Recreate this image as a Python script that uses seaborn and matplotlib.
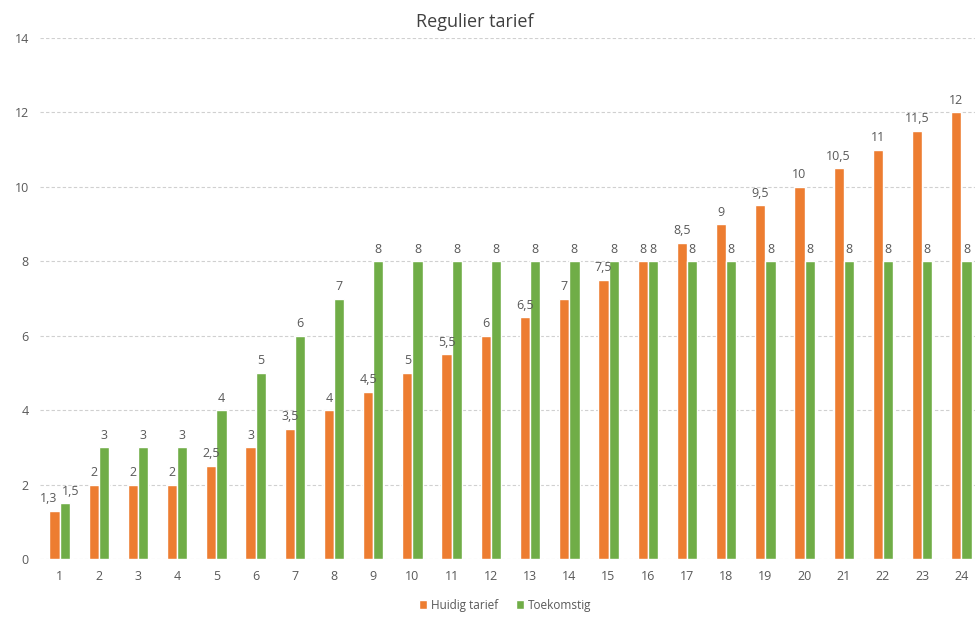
import matplotlib
matplotlib.use("Agg")
import matplotlib.pyplot as plt
import seaborn as sns
import pandas as pd
from matplotlib.patches import Patch

categories = [str(i) for i in range(1, 25)]
huidig = [1.3, 2, 2, 2, 2.5, 3, 3.5, 4, 4.5, 5, 5.5, 6, 6.5, 7, 7.5, 8,
          8.5, 9, 9.5, 10, 10.5, 11, 11.5, 12]
toekomstig = [1.5, 3, 3, 3, 4, 5, 6, 7, 8, 8, 8, 8, 8, 8, 8, 8,
              8, 8, 8, 8, 8, 8, 8, 8]
series_names = ["Huidig tarief", "Toekomstig"]
colors = ["#ED7D31", "#70AD47"]

df = pd.DataFrame({
    "cat": categories * 2,
    "val": huidig + toekomstig,
    "serie": [series_names[0]] * len(categories) + [series_names[1]] * len(categories),
})

sns.set_theme(style="white")
plt.rcParams["font.family"] = ["Open Sans", "DejaVu Sans"]

fig = plt.figure(figsize=(9.75, 6.17), dpi=100)
ax = fig.add_axes([40 / 975, 1 - 559 / 617, 941 / 975, (559 - 38) / 617])

sns.barplot(data=df, x="cat", y="val", hue="serie", order=categories,
            hue_order=series_names, palette=colors, width=0.52, gap=0,
            saturation=1, ax=ax, legend=False, errorbar=None)

ax.set_ylim(0, 14)
ax.set_yticks(range(0, 15, 2))
ax.set_xlim(-0.5, len(categories) - 0.5)
ax.yaxis.grid(True, linestyle=(0, (3, 2)), color="#d0d0d0", linewidth=0.8)
ax.set_axisbelow(True)
for s in ax.spines.values():
    s.set_visible(False)
ax.set_xlabel("")
ax.set_ylabel("")
ax.tick_params(axis="both", length=0, labelsize=9, colors="#595959", pad=8)

def fmt(v):
    if float(v).is_integer():
        return str(int(v))
    return str(v).replace(".", ",")

all_labels = []
for cont in ax.containers:
    labels = [fmt(b.get_height()) for b in cont]
    texts = ax.bar_label(cont, labels=labels, padding=4, fontsize=9, color="#595959")
    all_labels.append(texts)

# nudge the first pair apart so "1,3" and "1,5" do not collide
all_labels[0][0].xyann = (-4, 4)
all_labels[1][0].xyann = (4, 4)

fig.text(475 / 975, 1 - 22 / 617, "Regulier tarief", ha="center", va="center",
         fontsize=13, color="#404040")

handles = [Patch(facecolor=c, label=n) for c, n in zip(colors, series_names)]
fig.legend(handles=handles, loc="center", bbox_to_anchor=(505 / 975, 1 - 605 / 617),
           ncol=2, frameon=False, fontsize=8.5, handlelength=0.7, handleheight=0.7,
           handletextpad=0.3, columnspacing=1.5, labelcolor="#595959")

fig.savefig("out.png", dpi=100)
